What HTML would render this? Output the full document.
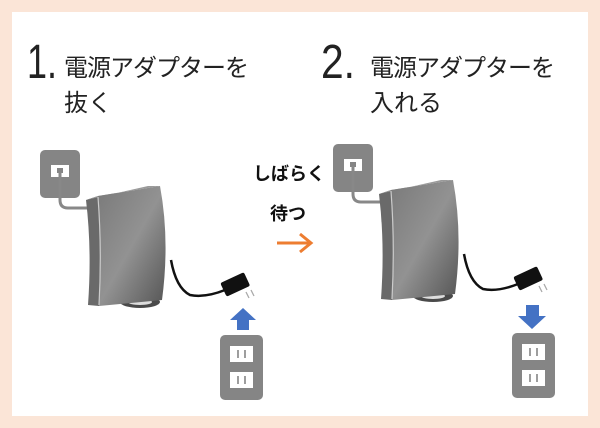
<!DOCTYPE html>
<html><head><meta charset="utf-8"><style>
body{margin:0;width:600px;height:428px;background:#fbe5d7;overflow:hidden}
</style></head><body>
<svg width="600" height="428" xmlns="http://www.w3.org/2000/svg" style="position:absolute;left:0;top:0">
<defs>
<linearGradient id="g" x1="0" y1="0" x2="1" y2="1">
<stop offset="0" stop-color="#7a7a7a"/><stop offset="0.5" stop-color="#929292"/><stop offset="1" stop-color="#555"/>
</linearGradient>
<g id="router">
<rect x="40" y="150" width="40" height="48" rx="5" fill="#858585"/>
<rect x="51" y="165" width="18" height="12" fill="#fff"/>
<rect x="57" y="168" width="6" height="5" fill="#858585"/>
<path d="M60 172 V200 Q60 208 68 208 H88" fill="none" stroke="#888" stroke-width="3"/>
<ellipse cx="140" cy="302" rx="20" ry="6" fill="#4a4a4a"/>
<ellipse cx="140" cy="302" rx="12" ry="3" fill="#ddd"/>
<!-- side -->
<path d="M86 200 L98 196 Q102 250 99 306 L88 305 Q92 250 86 200 Z" fill="#6a6a6a"/>
<!-- top -->
<path d="M86 200 L148 186 L160 186 L98 196 Z" fill="#9a9a9a"/>
<!-- front -->
<path d="M98 196 L160 186 Q170 240 162 300 L99 306 Q102 250 98 196 Z" fill="url(#g)"/>
<path d="M98 197 Q102 250 99 305" fill="none" stroke="#ccc" stroke-width="1.2"/>
<path d="M171 260 Q176 288 190 295 Q205 298 225 290" fill="none" stroke="#111" stroke-width="2.5"/>
<rect x="222" y="277" width="26" height="15" rx="2" fill="#111" transform="rotate(-25 235 284)"/>
<path d="M246 292 L249 298 M251 290 L254 296" stroke="#aaa" stroke-width="1.3"/>
</g>
<g id="outlet">
<rect x="0" y="0" width="43" height="65" rx="5" fill="#858585"/>
<rect x="10" y="11" width="23" height="16" fill="#fff"/>
<rect x="10" y="37" width="23" height="16" fill="#fff"/>
<path d="M18 15v8M25 15v8M18 41v8M25 41v8" stroke="#858585" stroke-width="1.6"/>
</g>
</defs>
<rect x="12" y="12" width="576" height="404" fill="#fff"/>
<text x="27" y="78" font-family="Liberation Sans, sans-serif" font-size="48" fill="#222" textLength="30" lengthAdjust="spacingAndGlyphs">1.</text>
<text x="64" y="76" font-family="'Liberation Sans','Noto Sans CJK JP',sans-serif" font-size="24" fill="#222" letter-spacing="-1">電源アダプターを</text>
<text x="64" y="111" font-family="'Liberation Sans','Noto Sans CJK JP',sans-serif" font-size="24" fill="#222">抜く</text>
<text x="321" y="78" font-family="Liberation Sans, sans-serif" font-size="48" fill="#222" textLength="34" lengthAdjust="spacingAndGlyphs">2.</text>
<text x="370" y="76" font-family="'Liberation Sans','Noto Sans CJK JP',sans-serif" font-size="24" fill="#222" letter-spacing="-1">電源アダプターを</text>
<text x="370" y="111" font-family="'Liberation Sans','Noto Sans CJK JP',sans-serif" font-size="24" fill="#222">入れる</text>
<text x="253" y="180" font-family="'Liberation Sans','Noto Sans CJK JP',sans-serif" font-size="18" font-weight="bold" fill="#111">しばらく</text>
<text x="270" y="220" font-family="'Liberation Sans','Noto Sans CJK JP',sans-serif" font-size="18" font-weight="bold" fill="#111">待つ</text>
<path d="M277 243 H310 M300 234 L311 243 L300 252" fill="none" stroke="#ed7d31" stroke-width="3"/>
<use href="#router"/>
<use href="#outlet" x="220" y="335"/>
<path d="M237 330 V320 H230 L243 308 L256 320 H249 V330 Z" fill="#4472c4"/>
<use href="#router" x="293" y="-6"/>
<use href="#outlet" x="512" y="333"/>
<path d="M526 305 V316 H518 L532 329 L546 316 H539 V305 Z" fill="#4472c4"/>
</svg>
</body></html>
